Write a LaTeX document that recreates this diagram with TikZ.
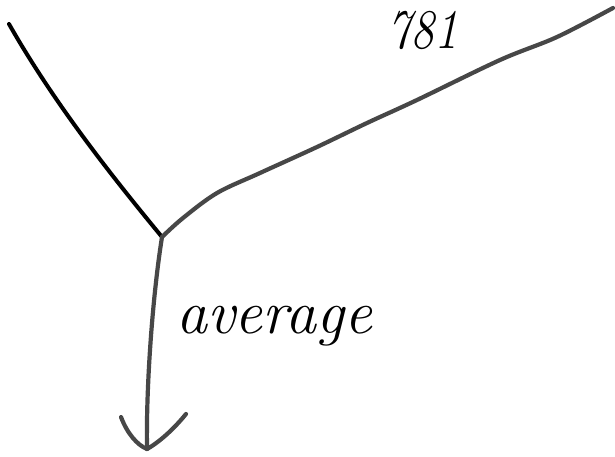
\documentclass[tikz,border=0pt]{standalone}
\begin{document}
\begin{tikzpicture}[x=1pt,y=-1pt,
  ink/.style={draw=black,line width=4pt,line cap=round,line join=round},
  pencil/.style={draw=black!72,line width=4.2pt,line cap=round,line join=round},
  hand/.style={inner sep=0pt,outer sep=0pt,text=black}]
\useasboundingbox[fill=white] (0,0) rectangle (615,457);
% points
\coordinate (start) at (9,24);
\coordinate (j) at (162,237);
\coordinate (e) at (613,8);
\coordinate (tip) at (147,449);
\coordinate (al) at (121,417);
\coordinate (ar) at (186,414);
% left branch
\draw[ink] (start) .. controls (55,105) and (115,180) .. (j);
% right branch
\draw[pencil] plot[smooth,tension=0.55] coordinates {(j) (183,218) (217,193) (260,173) (317,147) (367,123) (417,100) (500,60) (557,37) (e)};
% downward arrow shaft
\draw[pencil] (j) .. controls (152,300) and (146,390) .. (tip);
% arrowhead arms
\draw[pencil] (al) .. controls (127,433) and (137,445) .. (tip);
\draw[pencil] (ar) .. controls (173,430) and (158,443) .. (tip);
% labels
\node[hand,anchor=base west,font=\fontsize{62}{62}\selectfont\itshape] (avg) at (176,333) {average};
\node[hand,anchor=base west,xscale=0.85,font=\fontsize{56}{56}\selectfont\itshape] (num) at (387,49) {781};
\end{tikzpicture}
\end{document}
